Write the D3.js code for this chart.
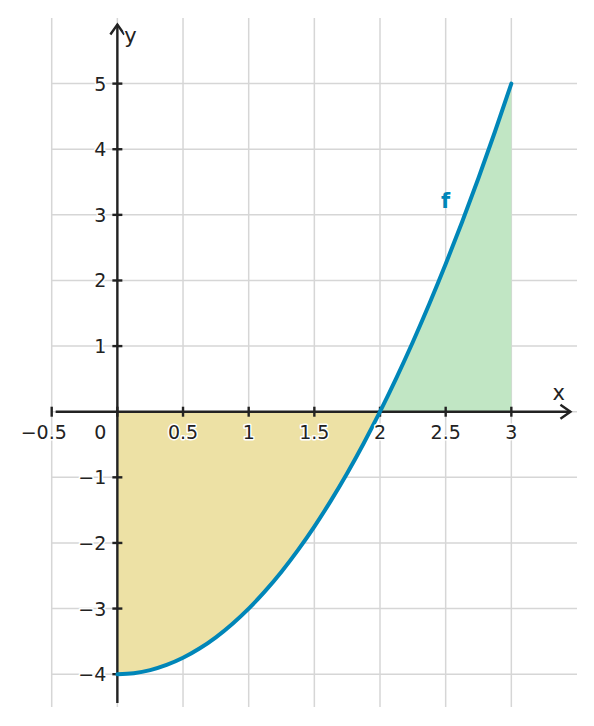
<!DOCTYPE html>
<html><head><meta charset="utf-8">
<script src="https://cdn.jsdelivr.net/npm/d3@7"></script>
<style>
html,body{margin:0;padding:0;background:#fff;}
text{font-family:"DejaVu Sans",sans-serif;}
</style></head>
<body><svg id="c" width="594" height="726"></svg>
<script>
const curveX = [0,0.125,0.25,0.375,0.5,0.625,0.75,0.875,1,1.125,1.25,1.375,1.5,1.625,1.75,1.875,2,2.125,2.25,2.375,2.5,2.625,2.75,2.875,3];
const curveY = [-4,-3.984,-3.9375,-3.859,-3.75,-3.609,-3.4375,-3.234,-3,-2.734,-2.4375,-2.109,-1.75,-1.359,-0.9375,-0.484,0,0.516,1.0625,1.641,2.25,2.891,3.5625,4.266,5];
const xTicks = [-0.5,0.5,1,1.5,2,2.5,3];
const xTickLabels = ["\u22120.5","0.5","1","1.5","2","2.5","3"];
const yTicks = [-4,-3,-2,-1,1,2,3,4,5];
const yTickLabels = ["\u22124","\u22123","\u22122","\u22121","1","2","3","4","5"];
const xGrid = [-0.5,0,0.5,1,1.5,2,2.5,3];
const yGrid = [-4,-3,-2,-1,0,1,2,3,4,5];
const funcLabel = "f";

const svg = d3.select("#c");
const x = d3.scaleLinear().domain([-0.5,3.5]).range([51.7,577]);
const y = d3.scaleLinear().domain([-4.5,6]).range([707,18]);

const pts = curveX.map((v,i)=>({x:v,y:curveY[i]}));
const neg = pts.filter(d=>d.x<=2), pos = pts.filter(d=>d.x>=2);
const area = d3.area().x(d=>x(d.x)).y0(y(0)).y1(d=>y(d.y)).curve(d3.curveMonotoneX);

// grid
const g = svg.append("g").attr("stroke","#d6d6d6").attr("stroke-width",1.5);
g.selectAll(".gx").data(xGrid).join("line").attr("x1",d=>x(d)).attr("x2",d=>x(d)).attr("y1",y(6)).attr("y2",y(-4.5));
g.selectAll(".gy").data(yGrid).join("line").attr("y1",d=>y(d)).attr("y2",d=>y(d)).attr("x1",x(-0.5)).attr("x2",x(3.5));

// fills
svg.append("path").attr("d",area(neg)).attr("fill","#ede1a5");
svg.append("path").attr("d",area(pos)).attr("fill","#c1e6c4");

// axes
const ax = svg.append("g").attr("stroke","#222").attr("stroke-width",2.4).attr("fill","none");
ax.append("line").attr("x1",x(-0.47)).attr("x2",x(3.45)).attr("y1",y(0)).attr("y2",y(0));
ax.append("line").attr("x1",x(0)).attr("x2",x(0)).attr("y1",y(-4.44)).attr("y2",y(5.9));
// arrowheads
const ax3 = x(3.45), ay0 = y(0);
ax.append("path").attr("d",`M${ax3-10},${ay0-7} L${ax3},${ay0} L${ax3-10},${ay0+7}`);
const ay6 = y(5.9), ax0 = x(0);
ax.append("path").attr("d",`M${ax0-7},${ay6+10} L${ax0},${ay6} L${ax0+7},${ay6+10}`);
// ticks
ax.selectAll(".tx").data(xTicks.concat([0])).join("line").attr("x1",d=>x(d)).attr("x2",d=>x(d)).attr("y1",y(0)-5).attr("y2",y(0)+5);
ax.selectAll(".ty").data(yTicks).join("line").attr("y1",d=>y(d)).attr("y2",d=>y(d)).attr("x1",x(0)-5).attr("x2",x(0)+5);

// curve
svg.append("path").datum(pts).attr("d",d3.line().x(d=>x(d.x)).y(d=>y(d.y)).curve(d3.curveMonotoneX))
  .attr("fill","none").attr("stroke","#0086b8").attr("stroke-width",4).attr("stroke-linecap","round");

// labels
const lab = svg.append("g").attr("font-size",19).attr("fill","#222")
  .attr("stroke","#fff").attr("stroke-width",3).attr("paint-order","stroke").attr("stroke-linejoin","round");
lab.selectAll(".lx").data(xTicks).join("text").attr("x",d=>x(d) - (d<0 ? 8 : 0)).attr("y",y(0)+27).attr("text-anchor","middle")
  .text((d,i)=>xTickLabels[i]);
lab.append("text").attr("x",x(0)-17).attr("y",y(0)+27).attr("text-anchor","middle").text("0");
lab.selectAll(".ly").data(yTicks).join("text").attr("x",x(0)-11).attr("y",d=>y(d)+7).attr("text-anchor","end")
  .text((d,i)=>yTickLabels[i]);
lab.append("text").attr("x",x(3.36)).attr("y",y(0)-12).attr("text-anchor","middle").attr("font-size",21).text("x");
lab.append("text").attr("x",x(0)+7).attr("y",y(5.65)+2).attr("text-anchor","start").attr("font-size",21).text("y");
svg.append("text").attr("x",x(2.5)).attr("y",y(3.1)).attr("text-anchor","middle").attr("font-size",21)
  .attr("font-weight","bold").attr("fill","#0086b8").text(funcLabel);
</script></body></html>
